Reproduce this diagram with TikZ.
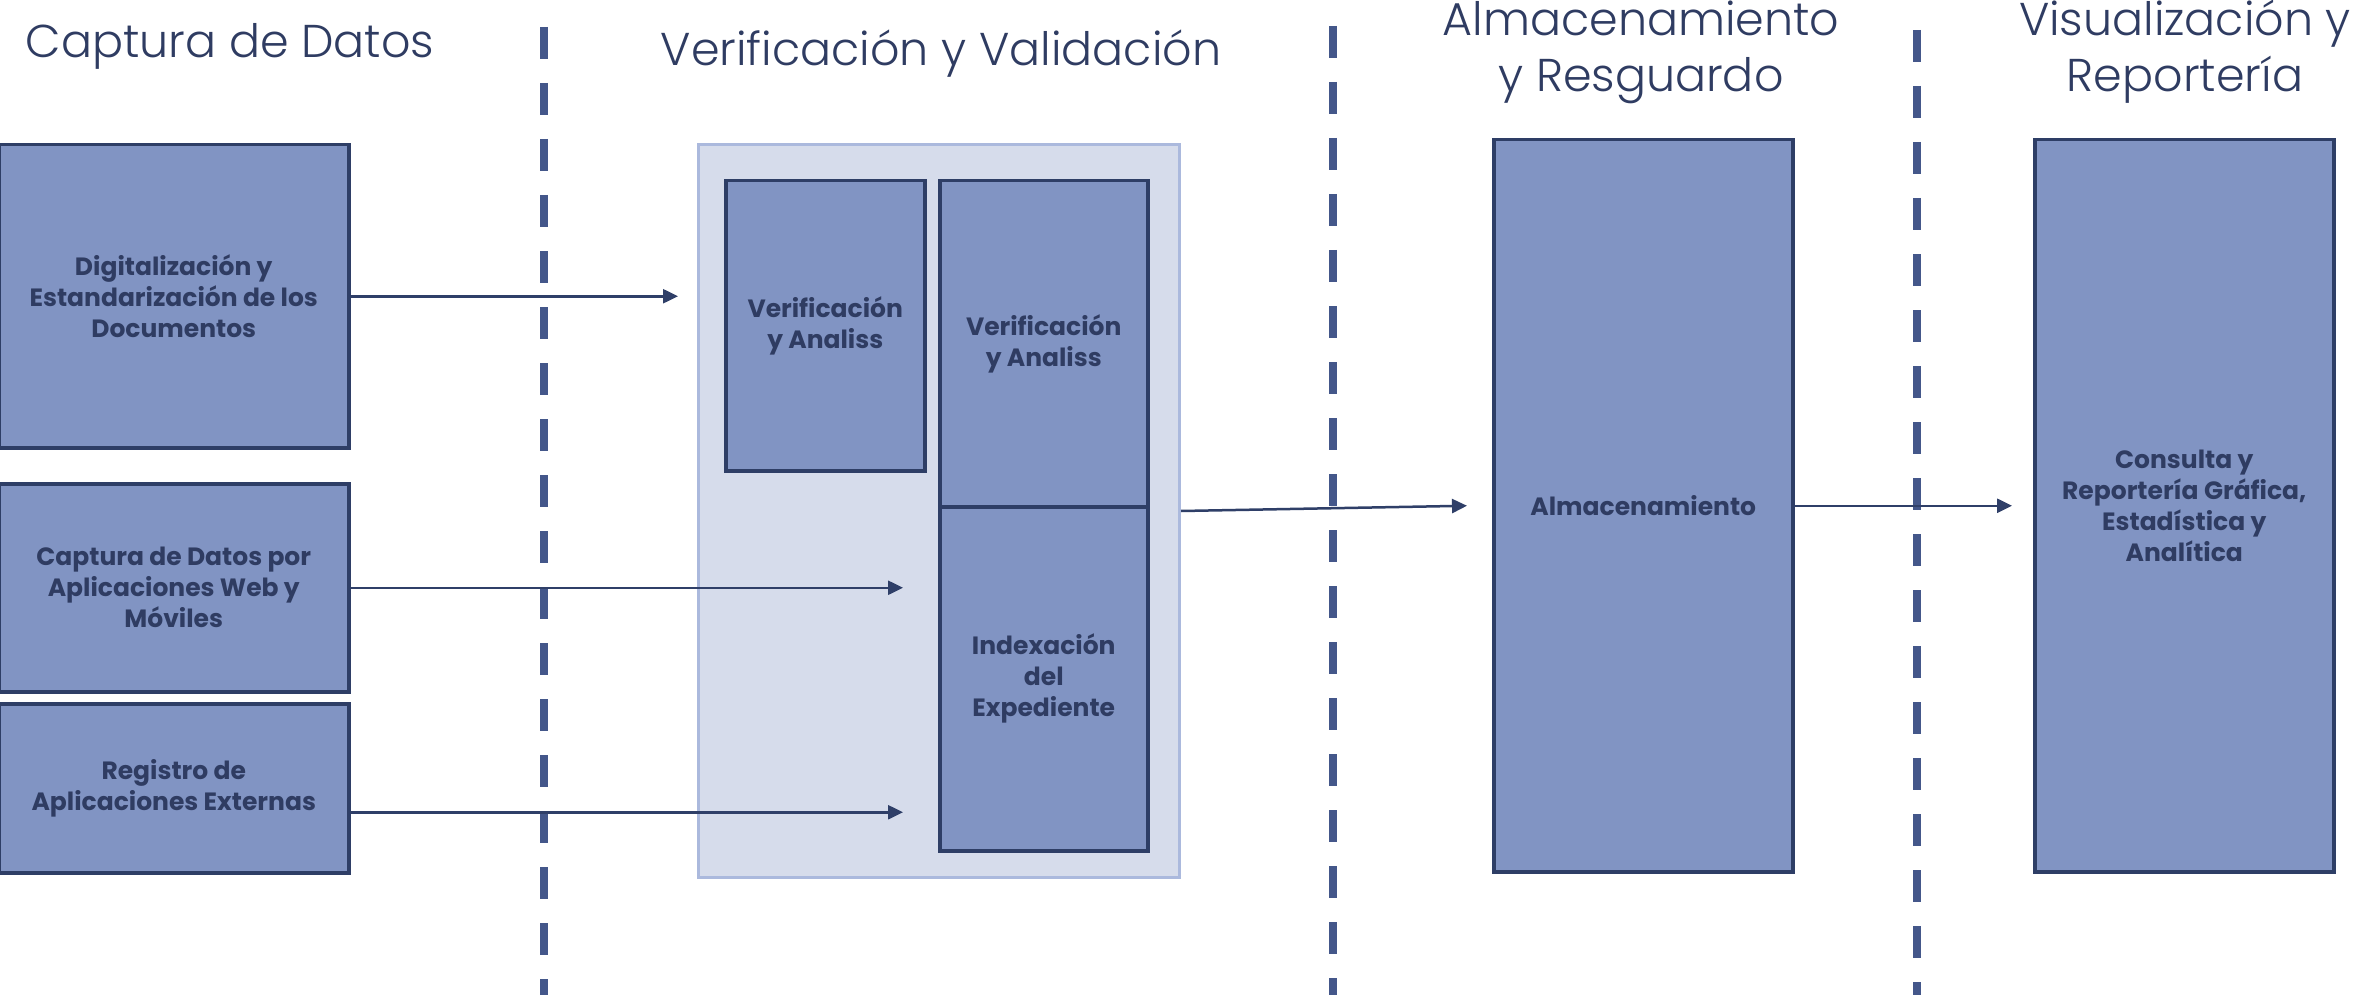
\documentclass[tikz,border=0pt]{standalone}
\usepackage{fontspec}
\setmainfont{Poppins}
\newfontfamily\titlefont{Poppins Light}
\newfontfamily\boxfont{Poppins Bold}
\usepackage{xcolor}
\usetikzlibrary{arrows.meta}

\definecolor{boxfill}{HTML}{8194C3}
\definecolor{boxline}{HTML}{2E3E66}
\definecolor{ink}{HTML}{2F3C62}
\definecolor{contfill}{HTML}{D6DCEB}
\definecolor{contline}{HTML}{ABB9DD}
\definecolor{divline}{HTML}{44578A}
\definecolor{arrowline}{HTML}{2F3F68}

\begin{document}
\begin{tikzpicture}[x=1pt,y=-1pt,
    stagebox/.style={draw=boxline,fill=boxfill,line width=3.5pt,inner sep=0pt,
      anchor=north west,align=center,text=ink,
      font=\boxfont\fontsize{25}{31}\selectfont},
    stagetitle/.style={text=ink,align=center,inner sep=0pt,
      font=\titlefont\fontsize{46}{56}\selectfont},
    flow/.style={draw=arrowline,line width=2.5pt,-{Triangle[length=15pt,width=14pt]}},
    divider/.style={draw=divline,line width=8pt,dash pattern=on 32pt off 24pt}]
    % Frame
    \useasboundingbox (0,0) rectangle (2356,995);
    \fill[white] (0,0) rectangle (2356,995);

    % Stage dividers
    \draw[divider] (544,27) -- (544,995);
    \draw[divider] (1333,26) -- (1333,995);
    \draw[divider] (1917,30) -- (1917,995);

    % Stage titles
    \node[stagetitle,anchor=base] (t1) at (230,58) {Captura de Datos};
    \node[stagetitle,anchor=base] (t2) at (941,66) {Verificación y Validación};
    \node[stagetitle] (t3) at (1641,52) {Almacenamiento\\y Resguardo};
    \node[stagetitle] (t4) at (2185,52) {Visualización y\\Reportería};

    % Capture sources
    \node[stagebox,minimum width=350pt,minimum height=303pt] (digit) at (-3,143)
      {Digitalización y\\Estandarización de los\\Documentos};
    \node[stagebox,minimum width=350pt,minimum height=208pt] (webapp) at (-3,482)
      {Captura de Datos por\\Aplicaciones Web y\\Móviles};
    \node[stagebox,minimum width=350pt,minimum height=169pt] (extern) at (-3,702)
      {Registro de\\Aplicaciones Externas};

    % Verification block
    \node[draw=contline,fill=contfill,line width=3pt,anchor=north west,
      minimum width=481pt,minimum height=733pt] (valid) at (697,143) {};
    \node[stagebox,minimum width=199pt,minimum height=290pt] (verifa) at (724,179)
      {Verificación\\y Analiss};
    \node[stagebox,minimum width=208pt,minimum height=326pt] (verifb) at (938,179)
      {Verificación\\y Analiss};
    \node[stagebox,minimum width=208pt,minimum height=344pt] (index) at (938,505)
      {Indexación\\del\\Expediente};

    % Storage and reporting
    \node[stagebox,minimum width=299pt,minimum height=732pt] (store) at (1492,138)
      {Almacenamiento};
    \node[stagebox,minimum width=299pt,minimum height=732pt] (report) at (2033,138)
      {Consulta y\\Reportería Gráfica,\\Estadística y\\Analítica};

    % Flows
    \draw[flow,shorten >=19pt] (digit.east) -- (digit.east -| valid.west);
    \draw[flow,shorten >=35pt] (webapp.east) -- (webapp.east -| index.west);
    \draw[flow,shorten >=35pt] ([yshift=-24pt]extern.east) -- ([yshift=-24pt]extern.east -| index.west);
    \draw[flow] (valid.east) -- ([xshift=-25pt]store.west);
    \draw[flow,shorten >=21pt] (store.east) -- (store.east -| report.west);
\end{tikzpicture}
\end{document}
